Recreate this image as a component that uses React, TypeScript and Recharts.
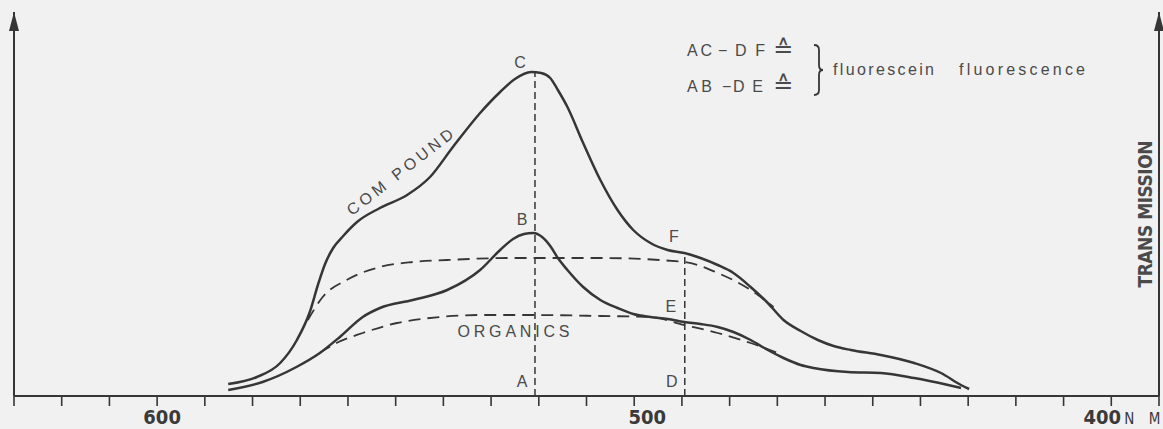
import React from "react";
import { ComposedChart, Line, XAxis, YAxis, ReferenceLine, ReferenceDot } from "recharts";

// wavelength axis in nm, long wavelengths on the left
const axisTicks = [630, 620, 610, 600, 590, 580, 570, 560, 550, 540, 530, 520, 510, 500, 490, 480, 470, 460, 450, 440, 430, 420, 410, 400, 390];
const tickLabels: Record<number, string> = { 600: "600", 500: "500", 400: "400" };

// solid curve, compound (organics + fluorescein)
const compoundNm = [585.1, 579.1, 574.2, 570.7, 568.0, 566.3, 564.8, 563.1, 561.0, 558.1, 553.3, 547.6, 542.8, 538.0, 532.3, 528.1, 525.0, 521.6, 519.5, 517.6, 516.0, 514.0, 510.7, 507.1, 503.5, 500.2, 496.6, 493.0, 489.5, 486.1, 482.5, 479.2, 475.6, 472.0, 468.7, 465.1, 461.5, 458.2, 454.6, 448.3, 441.3, 435.7, 431.5, 429.8];
const compoundVal = [12, 19, 33, 56, 84, 111, 132, 148, 160, 174, 188, 201, 219, 249, 283, 304, 317, 324, 323, 318, 306, 289, 253, 216, 186, 166, 153, 146, 143, 138, 131, 123, 109, 93, 76, 65, 56, 50, 46, 41, 33, 23, 11, 7];

// solid curve, organics only
const organicsNm = [585.1, 577.9, 570.8, 565.9, 561.7, 556.9, 553.3, 546.4, 539.2, 532.3, 528.1, 525.4, 523.1, 521.2, 519.3, 517.6, 516.0, 514.0, 510.7, 507.1, 503.5, 500.2, 496.6, 493.0, 489.5, 486.1, 482.5, 479.2, 475.6, 472.0, 468.7, 465.1, 462.4, 455.2, 448.3, 441.3, 434.2, 431.5];
const organicsVal = [6, 14, 29, 43, 59, 79, 88, 96, 106, 126, 146, 157, 162, 163, 159, 150, 138, 126, 109, 96, 88, 82, 79, 77, 74, 72, 69, 64, 56, 46, 38, 31, 28, 24, 23, 18, 11, 8];

// dashed baselines under the two curves
const compoundBaseNm = [568.4, 565.3, 560.3, 553.3, 546.4, 539.2, 525.4, 507.1, 489.5, 482.5, 475.6, 470.8];
const compoundBaseVal = [76, 99, 116, 129, 134, 136, 138, 138, 134, 123, 106, 89];
const organicsBaseNm = [565.9, 562.4, 556.9, 549.7, 540.7, 532.3, 521.8, 507.1, 496.6, 489.5, 482.5, 475.6, 469.9];
const organicsBaseVal = [43, 53, 63, 73, 79, 81, 81, 80, 79, 71, 63, 53, 43];

// marked points A..F
const pointNames = ["A", "B", "C", "D", "E", "F"];
const pointNm = [520.8, 520.8, 520.8, 489.4, 489.4, 489.4];
const pointVal = [0, 163, 324, 0, 74, 143];

const rows = (nm: number[], val: number[]) => nm.map((x, i) => ({ nm: x, v: val[i] }));

const INK = "#363636";
const TEXT = "#4a4a4a";
const SANS = "'Liberation Sans', 'DejaVu Sans', sans-serif";
const NARROW = "'Liberation Sans Narrow', 'DejaVu Sans Condensed', 'Liberation Sans', sans-serif";

const letterOffset: Record<string, [number, number]> = {
  A: [-13, -9],
  B: [-13, -8],
  C: [-15, -4],
  D: [-13, -9],
  E: [-14, -10],
  F: [-11, -11],
};
const tickOffset: Record<number, number> = { 600: 5, 500: 13, 400: -9 };

const AxisTick = ({ x, y, payload }: any) => {
  const label = tickLabels[payload.value];
  if (!label) return null;
  const cx = x + tickOffset[payload.value];
  return (
    <g>
      <text x={cx} y={y + 16} textAnchor="middle" fontFamily={NARROW} fontWeight="bold" fontSize={20} fill="#3a3a3a">
        {label}
      </text>
      {payload.value === 400 && (
        <text x={cx + 22} y={y + 16} fontFamily={NARROW} fontSize={15} fill="#3a3a3a" textLength={36} lengthAdjust="spacing">
          N M
        </text>
      )}
    </g>
  );
};

const arrowLabel = ({ viewBox }: any) => {
  const { x, y } = viewBox;
  return <polygon points={`${x},${y} ${x - 5},${y + 19} ${x + 5},${y + 19}`} fill={INK} />;
};

const letterLabel = (name: string) => ({ viewBox }: any) => {
  const [dx, dy] = letterOffset[name];
  return (
    <text x={viewBox.x + dx} y={viewBox.y + dy} textAnchor="middle" fontFamily={SANS} fontSize={16} fill={TEXT}>
      {name}
    </text>
  );
};

const curveLabel = (text: string, angle: number, size: number, len: number, weight = "normal", family = SANS) =>
  ({ viewBox }: any) => (
    <text
      x={viewBox.x}
      y={viewBox.y}
      transform={`rotate(${angle} ${viewBox.x} ${viewBox.y})`}
      textAnchor="middle"
      dominantBaseline="central"
      fontFamily={family}
      fontWeight={weight}
      fontSize={size}
      fill={TEXT}
      textLength={len}
      lengthAdjust="spacing"
    >
      {text}
    </text>
  );

export default function App() {
  return (
    <div style={{ position: "absolute", left: 0, top: 0, width: 1163, height: 429, background: "#f1f1f1" }}>
      <ComposedChart width={1163} height={429} margin={{ top: 12, right: 4, bottom: 0, left: 14 }}>
        <XAxis
          type="number"
          dataKey="nm"
          domain={[390, 630]}
          reversed
          ticks={axisTicks}
          interval={0}
          height={33}
          axisLine={{ stroke: INK, strokeWidth: 2 }}
          tickLine={{ stroke: INK, strokeWidth: 1.6 }}
          tickSize={10}
          tick={<AxisTick />}
        />
        <YAxis type="number" dataKey="v" domain={[0, 384]} hide allowDataOverflow />

        <ReferenceLine x={630} stroke={INK} strokeWidth={2} label={arrowLabel} />
        <ReferenceLine x={390} stroke={INK} strokeWidth={2} label={arrowLabel} />

        <ReferenceLine
          segment={[{ x: pointNm[0], y: pointVal[0] }, { x: pointNm[2], y: pointVal[2] }]}
          stroke={INK}
          strokeWidth={1.5}
          strokeDasharray="7 4"
        />
        <ReferenceLine
          segment={[{ x: pointNm[3], y: pointVal[3] }, { x: pointNm[5], y: pointVal[5] }]}
          stroke={INK}
          strokeWidth={1.5}
          strokeDasharray="7 4"
        />

        <Line data={rows(compoundBaseNm, compoundBaseVal)} dataKey="v" type="monotone" stroke={INK} strokeWidth={1.8} strokeDasharray="12 7" dot={false} isAnimationActive={false} />
        <Line data={rows(organicsBaseNm, organicsBaseVal)} dataKey="v" type="monotone" stroke={INK} strokeWidth={1.8} strokeDasharray="12 7" dot={false} isAnimationActive={false} />
        <Line data={rows(compoundNm, compoundVal)} dataKey="v" type="monotone" stroke={INK} strokeWidth={2.5} dot={false} isAnimationActive={false} />
        <Line data={rows(organicsNm, organicsVal)} dataKey="v" type="monotone" stroke={INK} strokeWidth={2.5} dot={false} isAnimationActive={false} />

        {pointNames.map((name, i) => (
          <ReferenceDot key={name} x={pointNm[i]} y={pointVal[i]} r={0} fill="none" stroke="none" label={letterLabel(name)} />
        ))}

        <ReferenceDot x={549.1} y={224} r={0} fill="none" stroke="none" label={curveLabel("COM POUND", -38, 16, 130)} />
        <ReferenceDot x={525.3} y={65} r={0} fill="none" stroke="none" label={curveLabel("ORGANICS", 0, 16, 112)} />
        <ReferenceDot x={392.9} y={182} r={0} fill="none" stroke="none" label={curveLabel("TRANS MISSION", -90, 19, 147, "bold", NARROW)} />

        {/* key at top right */}
        <g fontFamily={SANS} fontSize={16} fill={TEXT}>
          <text x={687} y={56} textLength={25} lengthAdjust="spacing">AC</text>
          <text x={718} y={56}>−</text>
          <text x={735} y={56} textLength={30} lengthAdjust="spacing">DF</text>
          <text x={773} y={57} fontSize={24}>≙</text>
          <text x={687} y={92} textLength={25} lengthAdjust="spacing">AB</text>
          <text x={722} y={92}>−</text>
          <text x={733} y={92} textLength={30} lengthAdjust="spacing">DE</text>
          <text x={773} y={93} fontSize={24}>≙</text>
          <path d="M814 45 q5 0 5 5 v15 q0 5 4 5 q-4 0 -4 5 v15 q0 5 -5 5" fill="none" stroke={INK} strokeWidth={1.8} />
          <text x={833} y={75} textLength={101} lengthAdjust="spacing">fluorescein</text>
          <text x={959} y={75} textLength={126} lengthAdjust="spacing">fluorescence</text>
        </g>
      </ComposedChart>
    </div>
  );
}
